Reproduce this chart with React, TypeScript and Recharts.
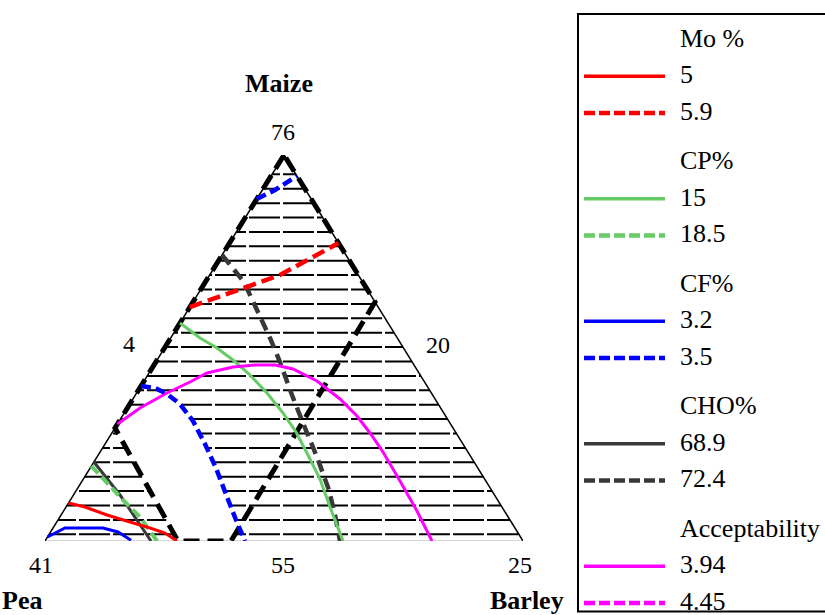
import React from 'react';
import { LineChart, Line, XAxis, YAxis } from 'recharts';

type P = { x: number; y: number };
const toPts = (a: number[][]): P[] => a.map(([x, y]) => ({ x, y }));

// Triangle coordinates: x 0..100 along the base (Pea -> Barley), y 0..100 up to the Maize apex
const triangleLeft = [[0, 0], [50, 100]];
const triangleRight = [[50, 100], [100, 0]];
const triangleBase = [[0, 0], [100, 0]];

// Constraint region boundary (black dashed)
const constraintBoundary = [[50, 100], [14.64, 29.27], [27.82, 0], [38.91, 0], [69.04, 61.92], [50, 100]];

// Mo %
const mo5 = [[4.9, 9.84], [8.37, 8.81], [12.97, 6.74], [17.78, 4.92], [21.97, 3.37], [25.1, 2.07], [27.6, 0]];
const mo59 = [[30.31, 60.62], [38.7, 64.25], [49.16, 68.91], [56.07, 73.58], [61.4, 77.2]];
// CP %
const cp15 = [[28.24, 56.48], [32.43, 52.59], [35.98, 50.0], [39.33, 46.89], [42.89, 43.01], [46.44, 38.34], [49.79, 33.16], [52.51, 28.24], [55.02, 22.28], [57.53, 16.06], [59.62, 8.81], [62.34, 0]];
const cp185 = [[9.7, 19.43], [16.32, 10.62], [19.87, 6.22], [23.43, 0]];
// CF %
const cf32 = [[0.52, 1.04], [4.18, 3.37], [12.13, 3.37], [15.27, 2.33], [18.0, 0.2]];
const cf35Top = [[44.3, 88.6], [48.12, 90.93], [52.72, 94.56]];
const cf35 = [[20.08, 40.16], [23.01, 39.64], [25.52, 38.08], [28.24, 35.49], [30.96, 31.09], [33.47, 25.13], [35.77, 18.91], [38.08, 11.4], [39.96, 5.44], [41.84, 0]];
// CHO %
const cho689 = [[10.23, 20.47], [15.69, 11.92], [22.18, 0]];
const cho724 = [[37.05, 74.09], [41.63, 67.1], [44.35, 59.84], [47.07, 52.59], [49.16, 46.37], [51.67, 37.82], [53.97, 30.57], [56.9, 21.76], [59.41, 13.21], [60.67, 6.74], [61.72, 0]];
// Acceptability
const acc394 = [[15.16, 30.31], [19.87, 34.46], [25.52, 38.34], [30.33, 41.19], [33.89, 43.52], [39.33, 45.08], [43.93, 45.6], [48.12, 45.6], [51.88, 44.56], [56.9, 41.45], [61.72, 36.79], [65.27, 32.38], [67.99, 27.98], [70.71, 23.06], [74.27, 15.54], [77.82, 7.77], [80.96, 0]];

// Overlay (feasible) region left unhatched
const clearRegion = [[14.64, 29.27], [15.16, 30.31], [19.87, 34.46], [25.3, 38.2], [28.24, 35.49], [30.96, 31.09], [33.47, 25.13], [35.77, 18.91], [38.08, 11.4], [39.96, 5.44], [40.62, 3.52], [38.91, 0], [27.82, 0]];

const componentNames = ['Maize', 'Pea', 'Barley'];
const vertexTicks = ['76', '4', '20', '41', '55', '25'];

const legendGroups = ['Mo %', 'CP%', 'CF%', 'CHO%', 'Acceptability'];
const legendLevels = [['5', '5.9'], ['15', '18.5'], ['3.2', '3.5'], ['68.9', '72.4'], ['3.94', '4.45']];

const RED = '#ff0000';
const GREEN = '#66cc66';
const BLUE = '#0000ff';
const GRAY = '#383838';
const MAGENTA = '#ff00ff';
const groupColors = [RED, GREEN, BLUE, GRAY, MAGENTA];

const W = 825;
const H = 615;
const PX_PER_X = 4.78;
const HATCH_PERIOD = 34;

function hatchSegments(): P[][] {
  const poly = clearRegion;
  const segs: P[][] = [];
  for (let k = 0; k < 26; k++) {
    const y = 1.74 + 3.73 * k;
    const xl = y / 2;
    const xr = 100 - y / 2;
    const xs: number[] = [];
    for (let i = 0; i < poly.length; i++) {
      const a = poly[i];
      const b = poly[(i + 1) % poly.length];
      if ((a[1] <= y && b[1] > y) || (b[1] <= y && a[1] > y)) {
        xs.push(a[0] + ((y - a[1]) * (b[0] - a[0])) / (b[1] - a[1]));
      }
    }
    xs.sort((p, q) => p - q);
    let cur = xl;
    for (let j = 0; j + 1 < xs.length; j += 2) {
      const s = Math.max(xs[j], xl);
      const e = Math.min(xs[j + 1], xr);
      if (s > cur) segs.push([{ x: cur, y }, { x: s, y }]);
      cur = Math.max(cur, e);
    }
    if (cur < xr) segs.push([{ x: cur, y }, { x: xr, y }]);
  }
  return segs;
}

const curve = (key: string, data: number[][], color: string, width: number, dash?: string) => (
  <Line
    key={key}
    data={toPts(data)}
    dataKey="y"
    type="linear"
    stroke={color}
    strokeWidth={width}
    strokeDasharray={dash}
    dot={false}
    activeDot={false}
    isAnimationActive={false}
    legendType="none"
  />
);

const SERIF = "'Liberation Serif', 'Times New Roman', 'DejaVu Serif', serif";

export default function App() {
  const hatch = hatchSegments();
  return (
    <div style={{ position: 'absolute', left: 0, top: 0, width: W, height: H, background: '#fff', overflow: 'hidden' }}>
      <LineChart width={W} height={H} margin={{ top: 155, right: W - 523, bottom: H - 541, left: 45 }}>
        <XAxis type="number" dataKey="x" domain={[0, 100]} hide allowDataOverflow />
        <YAxis type="number" domain={[0, 100]} hide allowDataOverflow />
        {hatch.map((s, i) => (
          <Line
            key={'h' + i}
            data={s}
            dataKey="y"
            stroke="#000"
            strokeWidth={2}
            strokeDasharray="31 3"
            strokeDashoffset={(s[0].x * PX_PER_X) % HATCH_PERIOD}
            dot={false}
            activeDot={false}
            isAnimationActive={false}
            legendType="none"
          />
        ))}
        {curve('base', triangleBase, '#c8c8c8', 1.5)}
        {curve('left', triangleLeft, '#000', 1.5)}
        {curve('right', triangleRight, '#000', 1.5)}
        {curve('bound', constraintBoundary, '#000', 5, '16 8')}
        {curve('cho689', cho689, GRAY, 3)}
        {curve('cp185', cp185, GREEN, 4, '10 5')}
        {curve('cf32', cf32, BLUE, 3)}
        {curve('mo5', mo5, RED, 3)}
        {curve('cho724', cho724, GRAY, 4.5, '12 7')}
        {curve('cp15', cp15, GREEN, 3)}
        {curve('acc394', acc394, MAGENTA, 3)}
        {curve('cf35', cf35, BLUE, 4.5, '10 5')}
        {curve('cf35top', cf35Top, BLUE, 4.5, '10 5')}
        {curve('mo59', mo59, RED, 4.5, '13 6')}
      </LineChart>
      <svg width={W} height={H} style={{ position: 'absolute', left: 0, top: 0, pointerEvents: 'none', fontFamily: SERIF }}>
        <g style={{ fontFamily: SERIF, fontSize: 26, fontWeight: 'bold' }} fill="#000">
          <text x={279} y={92} textAnchor="middle">{componentNames[0]}</text>
          <text x={2} y={609}>{componentNames[1]}</text>
          <text x={490} y={609}>{componentNames[2]}</text>
        </g>
        <g style={{ fontFamily: SERIF, fontSize: 24 }} fill="#000" textAnchor="middle">
          <text x={283} y={140}>{vertexTicks[0]}</text>
          <text x={129} y={352}>{vertexTicks[1]}</text>
          <text x={438} y={353}>{vertexTicks[2]}</text>
          <text x={41} y={573}>{vertexTicks[3]}</text>
          <text x={283} y={573}>{vertexTicks[4]}</text>
          <text x={520} y={573}>{vertexTicks[5]}</text>
        </g>
        <g style={{ fontFamily: SERIF, fontSize: 26 }} fill="#000">
          <rect x={578} y={14} width={260} height={597.5} fill="#fff" stroke="none" />
          {legendGroups.map((g, gi) => {
            const base = 46.7 + 122.5 * gi;
            return (
              <g key={g}>
                <text x={680} y={base}>{g}</text>
                {legendLevels[gi].map((lv, li) => {
                  const bl = base + 36.6 * (li + 1);
                  return (
                    <g key={lv}>
                      <line
                        x1={584}
                        x2={665}
                        y1={bl - 7}
                        y2={bl - 7}
                        stroke={groupColors[gi]}
                        strokeWidth={li ? 4.5 : 3.5}
                        strokeDasharray={li ? '11 4' : undefined}
                      />
                      <text x={680} y={bl}>{lv}</text>
                    </g>
                  );
                })}
              </g>
            );
          })}
          <rect x={578} y={14} width={260} height={597.5} fill="none" stroke="#000" strokeWidth={2} />
        </g>
      </svg>
    </div>
  );
}
